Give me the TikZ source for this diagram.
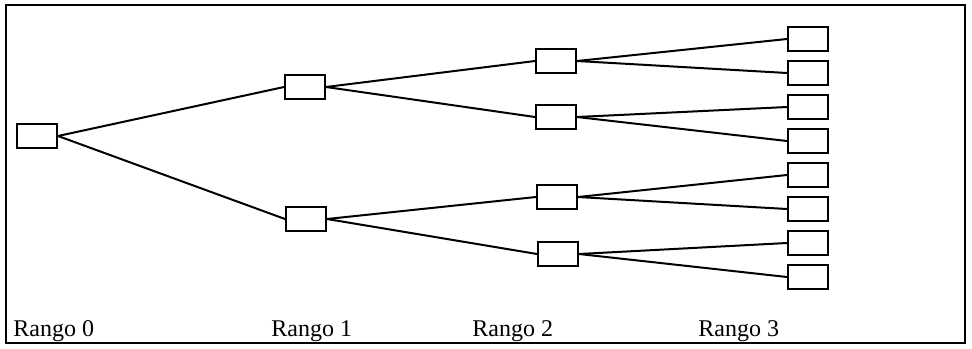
\documentclass[tikz,border=0pt]{standalone}
\usepackage{fontspec}
\setmainfont{Liberation Serif}
\usetikzlibrary{positioning}

\begin{document}
\begin{tikzpicture}[
        x=0.5pt, y=-0.5pt,
        box/.style={rectangle, draw=black, line width=1pt, fill=white,
                    minimum width=20pt, minimum height=12pt, inner sep=0pt},
        rango/.style={anchor=base west, inner sep=0pt, font=\fontsize{12}{14}\selectfont},
        link/.style={line width=1pt}
    ]
        \useasboundingbox (0,0) rectangle (972,348);
        \draw[line width=1pt] (6,5) rectangle (965,343);

        % rango 0
        \node[box] (r0) at (37,136) {};

        % rango 1
        \node[box] (r1a) at (305,87) {};
        \node[box] (r1b) at (306,219) {};

        % rango 2
        \node[box] (r2a) at (556,61) {};
        \node[box] (r2b) at (556,117) {};
        \node[box] (r2c) at (557,197) {};
        \node[box] (r2d) at (558,254) {};

        % rango 3
        \node[box] (r3a) at (808,39) {};
        \node[box] (r3b) at (808,73) {};
        \node[box] (r3c) at (808,107) {};
        \node[box] (r3d) at (808,141) {};
        \node[box] (r3e) at (808,175) {};
        \node[box] (r3f) at (808,209) {};
        \node[box] (r3g) at (808,243) {};
        \node[box] (r3h) at (808,277) {};

        % labels
        \node[rango] (lab0) at (13,336) {Rango 0};
        \node[rango] (lab1) at (271,336) {Rango 1};
        \node[rango] (lab2) at (472,336) {Rango 2};
        \node[rango] (lab3) at (698,336) {Rango 3};

        \draw[link] (r0.east) -- (r1a.west);
        \draw[link] (r0.east) -- (r1b.west);

        \draw[link] (r1a.east) -- (r2a.west);
        \draw[link] (r1a.east) -- (r2b.west);
        \draw[link] (r1b.east) -- (r2c.west);
        \draw[link] (r1b.east) -- (r2d.west);

        \draw[link] (r2a.east) -- (r3a.west);
        \draw[link] (r2a.east) -- (r3b.west);
        \draw[link] (r2b.east) -- (r3c.west);
        \draw[link] (r2b.east) -- (r3d.west);
        \draw[link] (r2c.east) -- (r3e.west);
        \draw[link] (r2c.east) -- (r3f.west);
        \draw[link] (r2d.east) -- (r3g.west);
        \draw[link] (r2d.east) -- (r3h.west);
    \end{tikzpicture}
\end{document}
